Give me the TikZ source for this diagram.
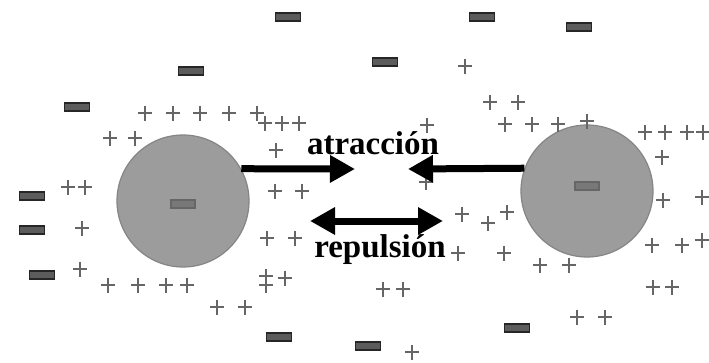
\documentclass[tikz,border=0pt]{standalone}
\usepackage{fontspec}
\setmainfont{Liberation Serif}
\usetikzlibrary{arrows.meta}
\definecolor{ballfill}{gray}{0.61}
\definecolor{balldraw}{gray}{0.52}
\definecolor{pluscol}{gray}{0.40}
\definecolor{minfill}{gray}{0.36}
\definecolor{mindraw}{gray}{0.15}
\definecolor{inmfill}{gray}{0.47}
\definecolor{inmdraw}{gray}{0.40}
\tikzset{
  ball/.style={circle, fill=ballfill, draw=balldraw, line width=1.2pt, minimum size=132pt, inner sep=0pt},
  pp/.pic={\draw[pluscol, line width=1.3pt] (-7,0)--(7,0) (0,-7.5)--(0,7.5);},
  mm/.pic={\draw[mindraw, fill=minfill, line width=1.6pt] (-12.5,-4) rectangle (12.5,4);},
  innerm/.pic={\draw[inmdraw, fill=inmfill, line width=1.2pt] (-12,-4) rectangle (12,4);},
  fat/.style={line width=7pt, black},
  tip/.tip={Triangle[length=25pt, width=26pt]},
  lbl/.style={font=\fontsize{33}{36}\selectfont\bfseries, anchor=base, inner sep=0pt}
}
\begin{document}
\begin{tikzpicture}[x=1pt, y=-1pt]
\useasboundingbox (0,0) rectangle (709,362);
\fill[white] (0,0) rectangle (709,362);
% negative charges
\foreach \x/\y in {288/17,191/71,77/107,385/62,482/17,579/27,32/196,32/230,42/275,279/337,368/346,517/328}
  \pic at (\x,\y) {mm};
% particles
\node[ball] (L) at (183,201) {};
\node[ball] (R) at (587,191) {};
\pic at (183,204) {innerm};
\pic at (587,186) {innerm};
% positive charges
\foreach \x/\y in {145/113,173/113,200/113,229/113,257/113,
  265/123,282/123,299/123,110/138,135/138,276/150,
  465/66,490/102,518/102,505/124,532/124,558/124,587/121,427/125,
  645/132,665/132,687/132,703/132,662/157,663/200,702/197,
  652/245,682/245,702/240,653/287,672/287,
  462/214,488/223,507/212,504/253,458/253,540/265,569/265,
  383/289,403/289,577/317,605/317,412/352,426/182,
  275/191,302/191,267/238,295/238,
  68/187,85/187,82/228,80/269,
  108/285,138/285,166/285,187/285,
  266/276,266/285,285/278,217/307,245/307}
  \pic at (\x,\y) {pp};
% arrows
\coordinate (tA) at (355,169);
\coordinate (tB) at (408,169);
\coordinate (rA) at (310,221);
\coordinate (rB) at (443,221);
\draw[fat, -tip] (L.29) -- (tA);
\draw[fat, -tip] (R.160.5) -- (tB);
\draw[fat, tip-tip] (rA) -- (rB);
% labels
\node[lbl] (at) at (373,154) {atracción};
\node[lbl] (rp) at (380,257) {repulsión};
\end{tikzpicture}
\end{document}
